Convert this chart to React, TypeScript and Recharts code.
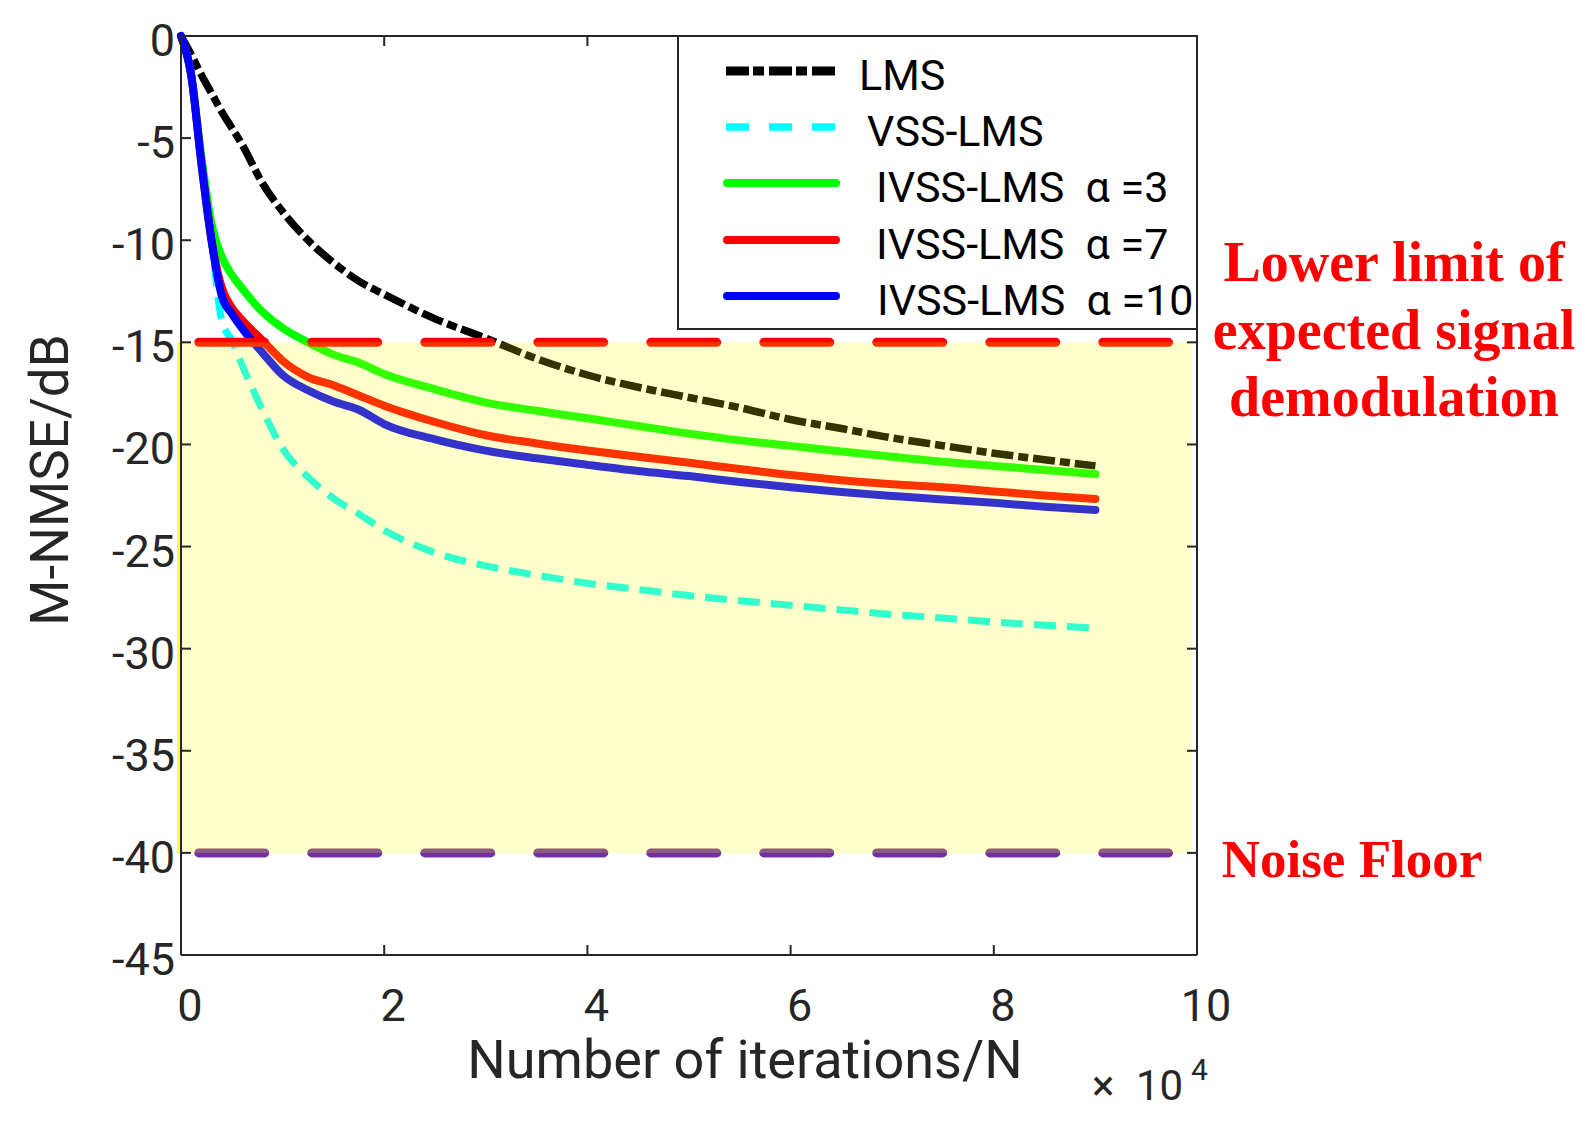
import React from 'react'
import { Line, LineChart, ReferenceArea, ReferenceLine, XAxis, YAxis } from 'recharts'

// iterations in units of 10^4
const iterations = [0, 0.1, 0.2, 0.3, 0.4, 0.5, 0.6, 0.8, 1.0, 1.25, 1.5, 1.75, 2, 2.5, 3, 3.5, 4, 4.5, 5, 5.5, 6, 6.5, 7, 7.5, 8, 8.5, 9]

// M-NMSE in dB, one value per iteration point
const lmsDb = [0, -0.9, -1.9, -2.8, -3.7, -4.5, -5.3, -7.2, -8.6, -10.0, -11.1, -12.0, -12.65, -13.85, -14.8, -15.8, -16.6, -17.2, -17.7, -18.2, -18.78, -19.22, -19.68, -20.06, -20.43, -20.75, -21.05]
const vssLmsDb = [0, -1.9, -6.2, -10.0, -13.9, -14.9, -16.1, -18.3, -20.2, -21.6, -22.64, -23.4, -24.2, -25.3, -25.95, -26.4, -26.8, -27.1, -27.4, -27.65, -27.88, -28.1, -28.33, -28.5, -28.7, -28.85, -29.0]
const ivss3Db = [0, -1.9, -5.9, -9.2, -10.8, -11.7, -12.35, -13.5, -14.3, -15.0, -15.6, -16.0, -16.55, -17.3, -17.95, -18.35, -18.72, -19.1, -19.47, -19.8, -20.07, -20.35, -20.6, -20.85, -21.05, -21.25, -21.45]
const ivss7Db = [0, -1.9, -6.2, -10.0, -12.3, -13.3, -13.9, -14.9, -15.9, -16.7, -17.1, -17.6, -18.1, -18.9, -19.55, -19.95, -20.3, -20.6, -20.9, -21.2, -21.5, -21.75, -21.95, -22.1, -22.3, -22.5, -22.67]
const ivss10Db = [0, -1.9, -6.2, -10.0, -12.7, -13.6, -14.3, -15.5, -16.6, -17.35, -17.9, -18.3, -19.0, -19.75, -20.3, -20.68, -21.0, -21.3, -21.55, -21.84, -22.1, -22.33, -22.52, -22.7, -22.86, -23.05, -23.21]

const xTicks = [0, 2, 4, 6, 8, 10]
const yTicks = [0, -5, -10, -15, -20, -25, -30, -35, -40, -45]

const demodLimitDb = -15
const noiseFloorDb = -40
const bandX = [0, 9.95]
const limitDashX = [0.175, 9.72]

const legendLabels = ['LMS', 'VSS-LMS', 'IVSS-LMS  α =3', 'IVSS-LMS  α =7', 'IVSS-LMS  α =10']
const limitText = ['Lower limit of', 'expected signal', 'demodulation']
const floorText = 'Noise Floor'

const data = iterations.map((x, i) => ({
  x,
  lms: lmsDb[i],
  vss: vssLmsDb[i],
  ivss3: ivss3Db[i],
  ivss7: ivss7Db[i],
  ivss10: ivss10Db[i],
}))

const series = [
  { key: 'lms', color: '#000000', dash: '22 5 10 5', width: 7.5, cap: 'butt' },
  { key: 'vss', color: '#00FFFF', dash: '22 11', width: 7, cap: 'butt' },
  { key: 'ivss3', color: '#00FF00', dash: undefined, width: 8, cap: 'round' },
  { key: 'ivss7', color: '#FF0000', dash: undefined, width: 8, cap: 'round' },
  { key: 'ivss10', color: '#0000FF', dash: undefined, width: 8, cap: 'round' },
]

const AXIS = '#262626'
const SANS = 'Roboto, "Noto Sans", sans-serif'
const SERIF = '"Liberation Serif", "Times New Roman", serif'

const BottomTick = ({ x, y, payload }: any) => (
  <g>
    <line x1={x} y1={y} x2={x} y2={y - 10} stroke={AXIS} strokeWidth={2} />
    <text x={x + 9} y={y + 66} textAnchor="middle" fontFamily={SANS} fontSize={45} fill={AXIS}>
      {payload.value}
    </text>
  </g>
)

const TopTick = ({ x, y }: any) => <line x1={x} y1={y} x2={x} y2={y + 10} stroke={AXIS} strokeWidth={2} />

const LeftTick = ({ x, y, payload }: any) => (
  <g>
    <line x1={x} y1={y} x2={x + 10} y2={y} stroke={AXIS} strokeWidth={2} />
    <text x={x - 6} y={y + 20} textAnchor="end" fontFamily={SANS} fontSize={45} fill={AXIS}>
      {payload.value}
    </text>
  </g>
)

const RightTick = ({ x, y }: any) => <line x1={x} y1={y} x2={x - 10} y2={y} stroke={AXIS} strokeWidth={2} />

// legend + annotations live in an overlay drawn over the plot
const legendRowY = [71, 127, 183, 240, 296]
const legendTextX = [859, 867, 876, 876, 877]

const Overlay: React.FC = () => (
  <svg width={1592} height={1123} style={{ position: 'absolute', left: 0, top: 0, pointerEvents: 'none' }}>
    <rect x={678} y={36} width={519} height={293} fill="#ffffff" stroke={AXIS} strokeWidth={2} />
    {series.map((s, i) =>
      s.dash ? (
        <line
          key={s.key}
          x1={726}
          y1={legendRowY[i]}
          x2={836}
          y2={legendRowY[i]}
          stroke={s.color}
          strokeWidth={i === 0 ? 9 : 7.5}
          strokeDasharray={i === 0 ? '23 4 11 5' : '23 20'}
        />
      ) : (
        <line
          key={s.key}
          x1={727}
          y1={legendRowY[i]}
          x2={836}
          y2={legendRowY[i]}
          stroke={s.color}
          strokeWidth={8}
          strokeLinecap="round"
        />
      ),
    )}
    {legendLabels.map((label, i) => (
      <text
        key={label}
        x={legendTextX[i]}
        y={legendRowY[i] + 19}
        fontFamily={SANS}
        fontSize={43}
        fill="#000000"
        style={{ whiteSpace: 'pre' }}
      >
        {label}
      </text>
    ))}

    {limitText.map((t, i) => (
      <text
        key={t}
        x={1394}
        y={281 + i * 67.5}
        textAnchor="middle"
        fontFamily={SERIF}
        fontWeight="bold"
        fontSize={56}
        fill="#FF0000"
      >
        {t}
      </text>
    ))}
    <text x={1352} y={877} textAnchor="middle" fontFamily={SERIF} fontWeight="bold" fontSize={53} fill="#FF0000">
      {floorText}
    </text>

    <text
      transform="translate(68, 480) rotate(-90)"
      textAnchor="middle"
      fontFamily={SANS}
      fontSize={53}
      fill={AXIS}
    >
      M-NMSE/dB
    </text>
    <text x={745} y={1078} textAnchor="middle" fontFamily={SANS} fontSize={54} fill={AXIS}>
      Number of iterations/N
    </text>
    <text x={1092} y={1100} fontFamily={SANS} fontSize={42} fill={AXIS}>
      ×
    </text>
    <text x={1136} y={1100} fontFamily={SANS} fontSize={42} fill={AXIS}>
      10
    </text>
    <text x={1191} y={1080} fontFamily={SANS} fontSize={30} fill={AXIS}>
      4
    </text>
  </svg>
)

const App: React.FC = () => {
  return (
    <div style={{ position: 'absolute', left: 0, top: 0, width: 1592, height: 1123, background: '#ffffff' }}>
      <LineChart width={1592} height={1123} data={data} margin={{ top: 35, right: 394, bottom: 108, left: 81 }}>
        <XAxis
          dataKey="x"
          type="number"
          domain={[0, 10]}
          ticks={xTicks}
          height={60}
          tickSize={0}
          tickMargin={0}
          tickLine={false}
          axisLine={{ stroke: AXIS, strokeWidth: 2 }}
          tick={<BottomTick />}
          interval={0}
        />
        <XAxis
          xAxisId="top"
          orientation="top"
          dataKey="x"
          type="number"
          domain={[0, 10]}
          ticks={xTicks}
          height={1}
          tickSize={0}
          tickMargin={0}
          tickLine={false}
          axisLine={{ stroke: AXIS, strokeWidth: 2 }}
          tick={<TopTick />}
          interval={0}
          allowDataOverflow
        />
        <YAxis
          type="number"
          domain={[-45, 0]}
          ticks={yTicks}
          width={100}
          tickSize={0}
          tickMargin={0}
          tickLine={false}
          axisLine={{ stroke: AXIS, strokeWidth: 2 }}
          tick={<LeftTick />}
          interval={0}
        />
        <YAxis
          yAxisId="right"
          orientation="right"
          type="number"
          domain={[-45, 0]}
          ticks={yTicks}
          width={1}
          tickSize={0}
          tickMargin={0}
          tickLine={false}
          axisLine={{ stroke: AXIS, strokeWidth: 2 }}
          tick={<RightTick />}
          interval={0}
          allowDataOverflow
        />

        {series.map((s) => (
          <Line
            key={s.key}
            dataKey={s.key}
            type="monotone"
            stroke={s.color}
            strokeWidth={s.width}
            strokeDasharray={s.dash}
            strokeLinecap={s.cap as any}
            strokeLinejoin="round"
            dot={false}
            activeDot={false}
            isAnimationActive={false}
          />
        ))}

        <ReferenceLine
          segment={[
            { x: limitDashX[0], y: demodLimitDb },
            { x: limitDashX[1], y: demodLimitDb },
          ]}
          stroke="#FF0000"
          strokeWidth={9}
          strokeDasharray="66 47"
          strokeLinecap="round"
          zIndex={450}
        />
        <ReferenceLine
          segment={[
            { x: limitDashX[0], y: noiseFloorDb },
            { x: limitDashX[1], y: noiseFloorDb },
          ]}
          stroke="#7030A0"
          strokeWidth={9}
          strokeDasharray="66 47"
          strokeLinecap="round"
          zIndex={450}
        />
        <ReferenceLine
          segment={[
            { x: -0.02, y: demodLimitDb },
            { x: -0.02, y: noiseFloorDb },
          ]}
          stroke="#FFFF40"
          strokeWidth={4}
          ifOverflow="visible"
          zIndex={450}
        />
        <ReferenceArea
          x1={bandX[0]}
          x2={bandX[1]}
          y1={noiseFloorDb}
          y2={demodLimitDb}
          fill="#FFFF00"
          fillOpacity={0.2}
          stroke="none"
          zIndex={460}
        />
      </LineChart>
      <Overlay />
    </div>
  )
}

export default App
